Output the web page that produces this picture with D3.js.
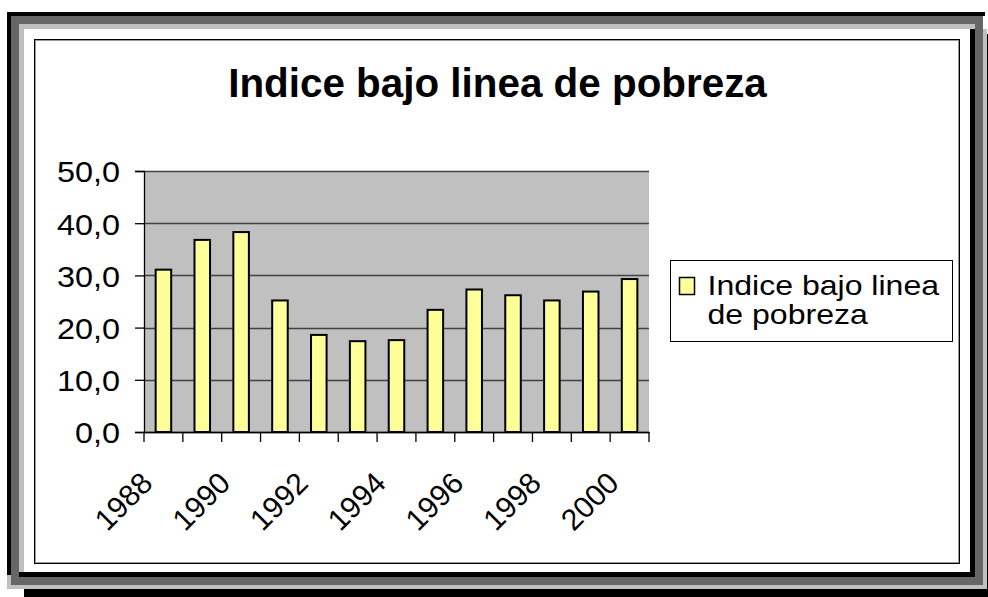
<!DOCTYPE html>
<html>
<head>
<meta charset="utf-8">
<script src="https://cdn.jsdelivr.net/npm/d3@7/dist/d3.min.js"></script>
<style>
  body { margin: 0; background: #fff; }
  svg text { font-family: Arial, "Liberation Sans", sans-serif; fill: #000; }
</style>
</head>
<body>
<div id="chart"></div>
<script>
  // datos
  const chartTitle = 'Indice bajo linea de pobreza';
  const seriesName = ['Indice bajo linea', 'de pobreza'];
  const years = ['1988', '1989', '1990', '1991', '1992', '1993', '1994',
    '1995', '1996', '1997', '1998', '1999', '2000'];
  const indice = [31.1, 36.8, 38.3, 25.2, 18.6, 17.4, 17.6, 23.4, 27.3, 26.2, 25.2, 26.9, 29.3];
  const yTicks = [0, 10, 20, 30, 40, 50];
  const xTickLabels = ['1988', '1990', '1992', '1994', '1996', '1998', '2000'];

  (function() {
    let width = 988;
    let height = 597;

    let svg = d3.select('#chart').append('svg')
      .attr('width', width)
      .attr('height', height);

    // marco con sombra (estilo Excel)
    let frame = [
      ['#c0c0c0', 19, 24, 956, 5], ['#c0c0c0', 19, 24, 5, 548], ['#c0c0c0', 7, 575, 4, 14],
      ['#c0c0c0', 983, 29, 4, 560], ['#c0c0c0', 7, 585, 980, 4],
      ['#666666', 11, 16, 972, 8], ['#666666', 11, 16, 8, 569], ['#666666', 975, 24, 8, 561],
      ['#666666', 11, 577, 972, 8],
      ['#000000', 7, 12, 978, 4], ['#000000', 7, 12, 4, 563], ['#000000', 970, 29, 5, 548],
      ['#000000', 19, 572, 956, 5], ['#000000', 24, 589, 964, 8], ['#000000', 987, 34, 1, 563]
    ];
    svg.append('g').selectAll('rect')
      .data(frame)
      .enter()
      .append('rect')
      .attr('fill', function(d) { return d[0]; })
      .attr('x', function(d) { return d[1]; })
      .attr('y', function(d) { return d[2]; })
      .attr('width', function(d) { return d[3]; })
      .attr('height', function(d) { return d[4]; });

    svg.append('rect')
      .attr('x', 35.5).attr('y', 40.5)
      .attr('width', 923).attr('height', 522)
      .attr('fill', 'none').attr('stroke', '#9a9a9a');
    svg.append('rect')
      .attr('x', 34.5).attr('y', 39.5)
      .attr('width', 925).attr('height', 524)
      .attr('fill', 'none').attr('stroke', '#000');

    svg.append('text')
      .attr('x', 497.5)
      .attr('y', 97)
      .attr('text-anchor', 'middle')
      .style('font-size', '40.4px')
      .style('font-weight', 'bold')
      .text(chartTitle);

    let margin = { top: 171, left: 144 };
    let plotW = 505;
    let plotH = 261;
    let stretch = 1.08;

    let g = svg.append('g')
      .attr('transform', 'translate(' + margin.left + ',' + margin.top + ')');

    let x = d3.scaleBand()
      .domain(years)
      .range([0, plotW])
      .paddingInner(0.6)
      .paddingOuter(0.3);

    let xBand = d3.scaleBand()
      .domain(years)
      .range([0, plotW]);

    let y = d3.scaleLinear()
      .domain([0, 50])
      .range([plotH, 0]);

    g.append('rect')
      .attr('width', plotW)
      .attr('height', plotH)
      .attr('fill', '#c0c0c0');

    g.append('g').selectAll('line')
      .data(yTicks)
      .enter()
      .append('line')
      .attr('x1', 0)
      .attr('x2', plotW)
      .attr('y1', function(d) { return Math.round(y(d)) + 0.5; })
      .attr('y2', function(d) { return Math.round(y(d)) + 0.5; })
      .attr('stroke', '#404040')
      .attr('stroke-width', 1.3);

    g.append('g').selectAll('.bar')
      .data(indice)
      .enter()
      .append('rect')
      .attr('class', 'bar')
      .attr('x', function(d, i) { return x(years[i]); })
      .attr('width', x.bandwidth())
      .attr('y', function(d) { return y(d); })
      .attr('height', function(d) { return plotH - y(d); })
      .attr('fill', '#ffff99')
      .attr('stroke', '#000')
      .attr('stroke-width', 2);

    let fmt = d3.formatLocale({ decimal: ',', thousands: '.', grouping: [3], currency: ['', ''] }).format('.1f');

    // eje Y
    let yAxis = g.append('g')
      .call(d3.axisLeft(y).tickValues(yTicks).tickSize(9).tickPadding(15).tickFormat(fmt));
    yAxis.select('.domain').attr('stroke', '#000').attr('stroke-width', 1.3);
    yAxis.selectAll('.tick line').attr('stroke', '#000').attr('stroke-width', 1.3);
    yAxis.selectAll('text')
      .attr('x', 0)
      .attr('transform', 'translate(-24,0) scale(' + stretch + ',1)')
      .style('font-size', '30px')
      .attr('dy', '0.36em');

    // eje X
    let xAxis = g.append('g')
      .attr('transform', 'translate(0,' + plotH + ')')
      .call(d3.axisBottom(xBand).tickSize(0).tickFormat(''));
    xAxis.select('.domain').attr('stroke', '#000').attr('stroke-width', 1.3);

    let edges = years.map(function(d) { return xBand(d); }).concat([plotW]);
    xAxis.selectAll('.edge')
      .data(edges)
      .enter()
      .append('line')
      .attr('class', 'edge')
      .attr('x1', function(d) { return d; })
      .attr('x2', function(d) { return d; })
      .attr('y1', 0)
      .attr('y2', 10)
      .attr('stroke', '#000')
      .attr('stroke-width', 1.3);

    xAxis.selectAll('.lbl')
      .data(xTickLabels)
      .enter()
      .append('text')
      .attr('class', 'lbl')
      .attr('text-anchor', 'end')
      .attr('transform', function(d) {
        let cx = xBand(d) + xBand.bandwidth() / 2 - 9;
        return 'translate(' + cx + ',53) rotate(-45)';
      })
      .style('font-size', '30px')
      .text(function(d) { return d; });

    // leyenda
    let legend = svg.append('g')
      .attr('transform', 'translate(670.5,260.5)');
    legend.append('rect')
      .attr('width', 282)
      .attr('height', 81)
      .attr('fill', '#fff')
      .attr('stroke', '#000');
    legend.append('rect')
      .attr('x', 9)
      .attr('y', 17)
      .attr('width', 15)
      .attr('height', 17)
      .attr('fill', '#ffff99')
      .attr('stroke', '#000')
      .attr('stroke-width', 1.5);
    legend.selectAll('.ltxt')
      .data(seriesName)
      .enter()
      .append('text')
      .attr('class', 'ltxt')
      .attr('transform', function(d, i) {
        return 'translate(37,' + (34.5 + i * 28.5) + ') scale(1.145,1)';
      })
      .style('font-size', '28px')
      .text(function(d) { return d; });
  })();
</script>
</body>
</html>
